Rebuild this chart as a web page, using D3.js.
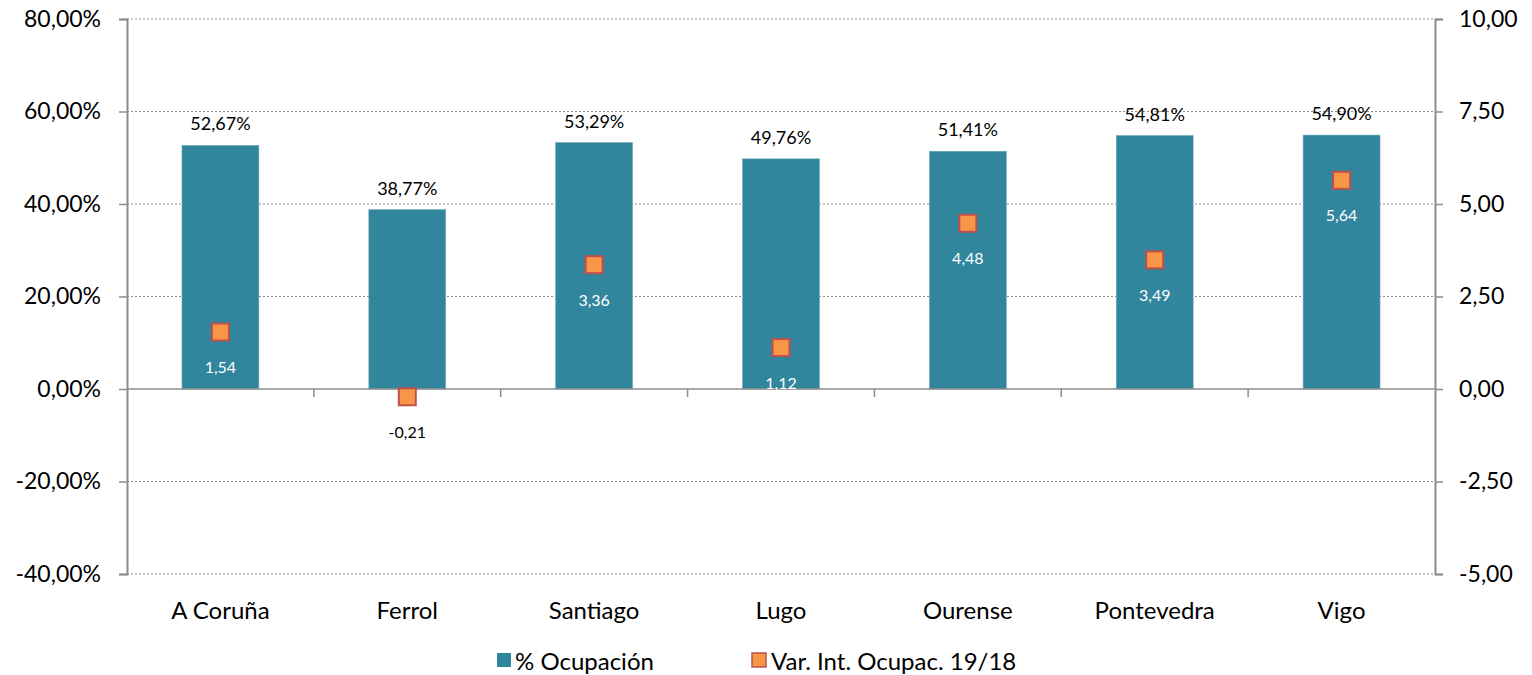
<!DOCTYPE html>
<html>
<head>
  <meta charset="utf-8">
  <title>Ocupación</title>
  <script src="https://d3js.org/d3.v7.min.js"></script>
  <style>
    body, html { margin: 0; padding: 0; background: #fff; overflow: hidden; }
    text { font-family: Lato, "Open Sans", sans-serif; fill: #000; }
  </style>
</head>
<body>
  <div id="chart"></div>
  <script>
    // data
    const categories = ["A Coruña", "Ferrol", "Santiago", "Lugo", "Ourense", "Pontevedra", "Vigo"];
    const ocupacion = [52.67, 38.77, 53.29, 49.76, 51.41, 54.81, 54.90];
    const variacion = [1.54, -0.21, 3.36, 1.12, 4.48, 3.49, 5.64];
    const leftTicks = [-40, -20, 0, 20, 40, 60, 80];
    const rightTicks = [-5, -2.5, 0, 2.5, 5, 7.5, 10];
    const seriesNames = ["% Ocupación", "Var. Int. Ocupac. 19/18"];

    const width = 1532, height = 675;
    const margin = { top: 19, right: 97, bottom: 101, left: 127 };
    const fmt = d3.formatLocale({ decimal: ",", thousands: ".", grouping: [3], currency: ["", "€"], minus: "-" });
    const f2 = fmt.format(".2f");

    const svg = d3.select("#chart").append("svg")
      .attr("width", width).attr("height", height);

    const x = d3.scaleBand().domain(categories)
      .range([margin.left, width - margin.right]).paddingInner(0).paddingOuter(0);
    const yL = d3.scaleLinear().domain([-40, 80]).range([height - margin.bottom, margin.top]);
    const yR = d3.scaleLinear().domain([-5, 10]).range([height - margin.bottom, margin.top]);

    const barW = x.bandwidth() / 2.43;

    // gridlines
    svg.append("g").selectAll("line")
      .data(leftTicks.filter(d => d !== 0))
      .join("line")
      .attr("x1", margin.left).attr("x2", width - margin.right)
      .attr("y1", d => yL(d)).attr("y2", d => yL(d))
      .attr("stroke", "#8c8c8c").attr("stroke-width", 1)
      .attr("stroke-dasharray", "2,2");

    // bars
    svg.append("g").selectAll("rect")
      .data(ocupacion)
      .join("rect")
      .attr("x", (d, i) => x(categories[i]) + (x.bandwidth() - barW) / 2)
      .attr("width", barW)
      .attr("y", d => yL(d))
      .attr("height", d => yL(0) - yL(d))
      .attr("fill", "#31859c")
      .attr("stroke", "#6ea9b9").attr("stroke-width", 0.6);

    // bar labels
    svg.append("g").selectAll("text")
      .data(ocupacion)
      .join("text")
      .attr("x", (d, i) => x(categories[i]) + x.bandwidth() / 2)
      .attr("y", d => yL(d) - 15)
      .attr("text-anchor", "middle")
      .style("font-size", "18px")
      .text(d => f2(d) + "%");

    // left axis
    const axL = svg.append("g")
      .attr("transform", `translate(${margin.left},0)`)
      .call(d3.axisLeft(yL).tickValues(leftTicks).tickSize(8).tickPadding(18)
        .tickFormat(d => f2(d) + "%"));
    axL.selectAll("text").style("font-size", "23px");

    // right axis
    const axR = svg.append("g")
      .attr("transform", `translate(${width - margin.right},0)`)
      .call(d3.axisRight(yR).tickValues(rightTicks).tickSize(8).tickPadding(16)
        .tickFormat(d => f2(d)));
    axR.selectAll("text").style("font-size", "23px");

    [axL, axR].forEach(ax => {
      ax.select(".domain").attr("stroke", "#8c8c8c").attr("stroke-width", 2);
      ax.selectAll(".tick line").attr("stroke", "#8c8c8c").attr("stroke-width", 1.5);
    });

    // zero axis line with category boundary ticks
    const zeroY = yL(0);
    svg.append("line")
      .attr("x1", margin.left).attr("x2", width - margin.right)
      .attr("y1", zeroY).attr("y2", zeroY)
      .attr("stroke", "#8c8c8c").attr("stroke-width", 1.5);
    svg.append("g").selectAll("line")
      .data(categories.slice(1))
      .join("line")
      .attr("x1", d => x(d)).attr("x2", d => x(d))
      .attr("y1", zeroY).attr("y2", zeroY + 8)
      .attr("stroke", "#8c8c8c").attr("stroke-width", 1.5);

    // category labels
    svg.append("g").selectAll("text")
      .data(categories)
      .join("text")
      .attr("x", d => x(d) + x.bandwidth() / 2)
      .attr("y", yL(-40) + 45)
      .attr("text-anchor", "middle")
      .style("font-size", "24px")
      .text(d => d);

    // markers
    const mk = 17;
    svg.append("g").selectAll("rect")
      .data(variacion)
      .join("rect")
      .attr("x", (d, i) => x(categories[i]) + x.bandwidth() / 2 - mk / 2)
      .attr("y", d => yR(d) - mk / 2)
      .attr("width", mk).attr("height", mk)
      .attr("fill", "#f79646")
      .attr("stroke", "#c0504d").attr("stroke-width", 2);

    // marker labels
    svg.append("g").selectAll("text")
      .data(variacion)
      .join("text")
      .attr("x", (d, i) => x(categories[i]) + x.bandwidth() / 2)
      .attr("y", d => yR(d) + 41)
      .attr("text-anchor", "middle")
      .style("font-size", "16px")
      .style("fill", d => d < 0 ? "#000" : "#fff")
      .text(d => f2(d));

    // legend
    const legend = svg.append("g").attr("transform", `translate(0,${height - 5})`);
    legend.append("rect")
      .attr("x", 497).attr("y", -17).attr("width", 14).attr("height", 14)
      .attr("fill", "#31859c");
    legend.append("text")
      .attr("x", 515).attr("y", 0)
      .style("font-size", "24px")
      .text(seriesNames[0]);
    legend.append("rect")
      .attr("x", 752).attr("y", -17).attr("width", 14).attr("height", 14)
      .attr("fill", "#f79646").attr("stroke", "#c0504d").attr("stroke-width", 1.5);
    legend.append("text")
      .attr("x", 771).attr("y", 0)
      .style("font-size", "24px")
      .text(seriesNames[1]);
  </script>
</body>
</html>
